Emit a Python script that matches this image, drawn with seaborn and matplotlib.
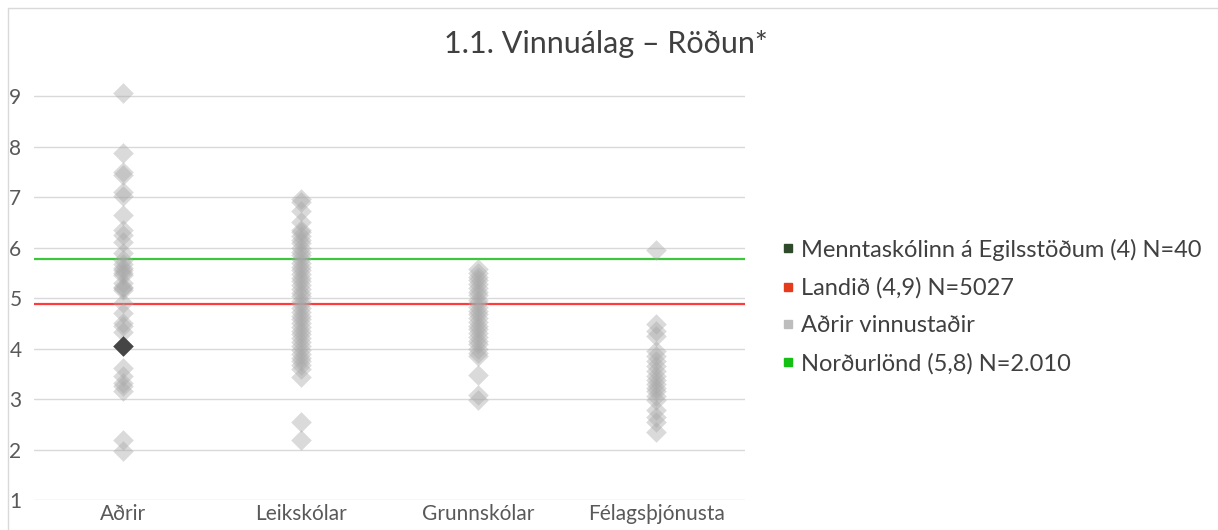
import numpy as np
import pandas as pd
import matplotlib
matplotlib.use("Agg")
import matplotlib.pyplot as plt
from matplotlib.lines import Line2D
import seaborn as sns

# categories on the x axis
categories = ["Aðrir", "Leikskólar", "Grunnskólar", "Félagsþjónusta"]

# other workplaces, one value per diamond
adrir = [9.05, 7.88, 7.5, 7.44, 7.1, 7.03, 6.64, 6.35, 6.25, 6.1, 5.9, 5.75, 5.68,
         5.6, 5.55, 5.5, 5.46, 5.3, 5.22, 5.2, 5.15, 4.9, 4.7, 4.5, 4.45, 4.33,
         3.62, 3.45, 3.32, 3.25, 3.15, 2.19, 1.97]
leikskolar = [6.97, 6.9, 6.72, 6.5, 6.35, 6.3, 6.22, 6.15, 6.08, 6.0, 5.92, 5.85,
              5.78, 5.7, 5.62, 5.55, 5.48, 5.4, 5.33, 5.25, 5.18, 5.1, 5.03, 4.95,
              4.88, 4.8, 4.72, 4.65, 4.58, 4.5, 4.42, 4.35, 4.28, 4.2, 4.12, 4.05,
              3.97, 3.9, 3.82, 3.75, 3.68, 3.6, 3.44, 2.55, 2.19]
grunnskolar = [5.58, 5.5, 5.42, 5.35, 5.28, 5.2, 5.12, 5.05, 4.97, 4.9, 4.82,
               4.75, 4.68, 4.6, 4.52, 4.45, 4.38, 4.3, 4.22, 4.15, 4.08, 4.0,
               3.92, 3.85, 3.48, 3.08, 2.98]
felags = [5.95, 4.48, 4.35, 4.25, 3.95, 3.85, 3.75, 3.65, 3.55, 3.45, 3.38, 3.3,
          3.22, 3.15, 3.05, 2.98, 2.78, 2.65, 2.55, 2.35]

# the school itself
school_group = "Aðrir"
school_value = 4.05

# reference lines
landid_value = 4.88
nordurlond_value = 5.77

legend_labels = ["Menntaskólinn á Egilsstöðum (4) N=40",
                 "Landið (4,9) N=5027",
                 "Aðrir vinnustaðir",
                 "Norðurlönd (5,8) N=2.010"]

title = "1.1. Vinnuálag – Röðun*"

others = pd.DataFrame({
    "group": (["Aðrir"] * len(adrir) + ["Leikskólar"] * len(leikskolar)
              + ["Grunnskólar"] * len(grunnskolar) + ["Félagsþjónusta"] * len(felags)),
    "value": adrir + leikskolar + grunnskolar + felags,
})
school = pd.DataFrame({"group": [school_group], "value": [school_value]})

sns.set_style("white")
plt.rcParams["font.family"] = ["Lato", "DejaVu Sans"]

fig = plt.figure(figsize=(12.18, 5.30), dpi=100)
ax = fig.add_axes([34 / 1218, 30 / 530, (745 - 34) / 1218, (500 - 83.4) / 530])

sns.stripplot(data=others, x="group", y="value", order=categories, jitter=False,
              marker="D", size=10.5, color="#a8a8a8", alpha=0.42, linewidth=0,
              ax=ax, zorder=3)
sns.stripplot(data=school, x="group", y="value", order=categories, jitter=False,
              marker="D", size=10.5, color="#454545", linewidth=0, ax=ax, zorder=4)

ax.axhline(landid_value, color="#ff3b3b", lw=1.6, zorder=2)
ax.axhline(nordurlond_value, color="#3cc63c", lw=1.6, zorder=2)

ax.set_ylim(1, 9.25)
ax.set_xlim(-0.5, 3.5)
ax.set_yticks(range(1, 10))
ax.yaxis.grid(True, color="#d9d9d9", lw=1)
ax.set_axisbelow(True)
for s in ax.spines.values():
    s.set_visible(False)
ax.set_xlabel("")
ax.set_ylabel("")
ax.tick_params(axis="y", length=0, pad=9, labelsize=15, labelcolor="#595959")
ax.tick_params(axis="x", length=0, pad=3, labelsize=15, labelcolor="#595959")

fig.text(606 / 1218, 1 - 44 / 530, title, ha="center", va="center",
         fontsize=22, color="#404040")

handles = [Line2D([], [], ls="none", marker="s", markersize=6, color=c)
           for c in ["#2f4a2b", "#e33b1b", "#bdbdbd", "#15c015"]]
fig.legend(handles, legend_labels, loc="center left",
           bbox_to_anchor=(773 / 1218, 1 - 306.5 / 530), frameon=False,
           fontsize=17, labelcolor="#404040", handlelength=0.5,
           handletextpad=0.3, labelspacing=0.7, borderaxespad=0)

# chart frame
fig.add_artist(Line2D([8 / 1218, 8 / 1218], [0, 1 - 8 / 530],
                      transform=fig.transFigure, color="#d9d9d9", lw=1))
fig.add_artist(Line2D([8 / 1218, 1], [1 - 8 / 530, 1 - 8 / 530],
                      transform=fig.transFigure, color="#d9d9d9", lw=1))

fig.savefig("out.png", dpi=100)
